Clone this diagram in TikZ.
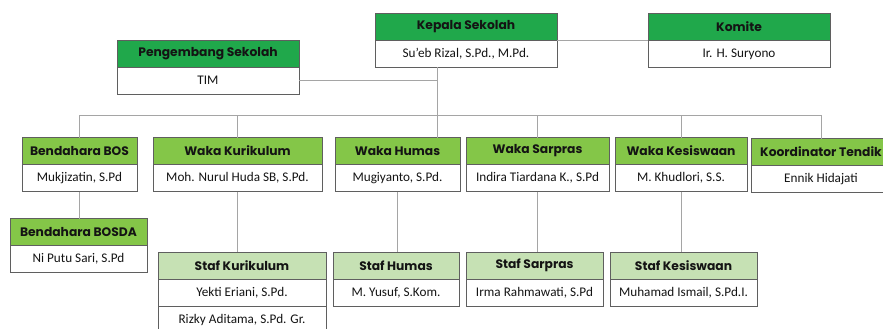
\documentclass[tikz,border=0pt]{standalone}
\usepackage{fontspec}
\setmainfont{Carlito}
\newfontfamily\headfont{Poppins}
\usetikzlibrary{positioning}
\definecolor{topgreen}{RGB}{32, 168, 75}
\definecolor{midgreen}{RGB}{132, 198, 72}
\definecolor{stafgreen}{RGB}{198, 225, 180}
\definecolor{edge}{RGB}{95, 95, 95}
\definecolor{wire}{RGB}{165, 165, 165}
\definecolor{ink}{RGB}{20, 20, 20}

\tikzset{
  box/.style={draw=edge, line width=0.9pt, minimum height=27pt, inner sep=0pt,
    outer sep=0pt, text=ink},
  tophead/.style={box, fill=topgreen, font=\headfont\bfseries\fontsize{12.3}{14}\selectfont},
  midhead/.style={box, fill=midgreen, font=\headfont\bfseries\fontsize{12.3}{14}\selectfont},
  stafhead/.style={box, fill=stafgreen, font=\headfont\bfseries\fontsize{12.3}{14}\selectfont},
  namebox/.style={box, fill=white, font=\fontsize{13.2}{15}\selectfont},
  wire/.style={draw=wire, line width=0.8pt}
}

\begin{document}
\begin{tikzpicture}[x=1pt, y=1pt]
  \useasboundingbox (0, 0) rectangle (883, -329);
  \clip (0, 0) rectangle (883, -329);

  % top row
  \node[tophead, minimum width=182pt] (kepala) at (466, -27) {Kepala Sekolah};
  \node[namebox, minimum width=182pt, below=0pt of kepala] (kepala-nm) {Su'eb Rizal, S.Pd., M.Pd.};
  \node[tophead, minimum width=182pt] (komite) at (739, -27) {Komite};
  \node[namebox, minimum width=182pt, below=0pt of komite] (komite-nm) {Ir. H. Suryono};
  \node[tophead, minimum width=182pt] (pengembang) at (208, -53.5) {Pengembang Sekolah};
  \node[namebox, minimum width=182pt, below=0pt of pengembang] (pengembang-nm) {TIM};

  % waka row
  \node[midhead, minimum width=115pt] (bos) at (79.5, -151) {Bendahara BOS};
  \node[namebox, minimum width=115pt, below=0pt of bos] (bos-nm) {Mukjizatin, S.Pd};
  \node[midhead, minimum width=169pt] (kurikulum) at (237.5, -151) {Waka Kurikulum};
  \node[namebox, minimum width=169pt, below=0pt of kurikulum] (kurikulum-nm) {Moh. Nurul Huda SB, S.Pd.};
  \node[midhead, minimum width=125pt] (humas) at (397.5, -151) {Waka Humas};
  \node[namebox, minimum width=125pt, below=0pt of humas] (humas-nm) {Mugiyanto, S.Pd.};
  \node[midhead, minimum width=143pt] (sarpras) at (537.5, -151) {Waka Sarpras};
  \node[namebox, minimum width=143pt, below=0pt of sarpras] (sarpras-nm) {Indira Tiardana K., S.Pd};
  \node[midhead, minimum width=132pt] (kesiswaan) at (681, -151) {Waka Kesiswaan};
  \node[namebox, minimum width=132pt, below=0pt of kesiswaan] (kesiswaan-nm) {M. Khudlori, S.S.};
  \node[midhead, minimum width=140pt] (tendik) at (821, -152) {Koordinator Tendik};
  \node[namebox, minimum width=140pt, below=0pt of tendik] (tendik-nm) {Ennik Hidajati};

  % staf row
  \node[midhead, minimum width=137pt] (bosda) at (78.5, -232) {Bendahara BOSDA};
  \node[namebox, minimum width=137pt, below=0pt of bosda] (bosda-nm) {Ni Putu Sari, S.Pd};
  \node[stafhead, minimum width=168pt] (stafkur) at (242, -265.5) {Staf Kurikulum};
  \node[namebox, minimum width=168pt, below=0pt of stafkur] (stafkur-nm) {Yekti Eriani, S.Pd.};
  \node[namebox, minimum width=168pt, below=0pt of stafkur-nm] (stafkur-nm2) {Rizky Aditama, S.Pd. Gr.};
  \node[stafhead, minimum width=126pt] (stafhumas) at (396, -265.5) {Staf Humas};
  \node[namebox, minimum width=126pt, below=0pt of stafhumas] (stafhumas-nm) {M. Yusuf, S.Kom.};
  \node[stafhead, minimum width=137pt] (stafsarpras) at (534.5, -265.5) {Staf Sarpras};
  \node[namebox, minimum width=137pt, below=0pt of stafsarpras] (stafsarpras-nm) {Irma Rahmawati, S.Pd};
  \node[stafhead, minimum width=147pt] (stafkes) at (683.5, -265.5) {Staf Kesiswaan};
  \node[namebox, minimum width=147pt, below=0pt of stafkes] (stafkes-nm) {Muhamad Ismail, S.Pd.I.};

  \coordinate (bus) at (0, -115);
  \coordinate (spine) at (437, 0);

  \path[wire] (kepala.south east) -- (komite.south west);
  \path[wire] (kepala-nm.south -| spine) -- (humas.north -| spine);
  \path[wire] (pengembang-nm.east) -- (pengembang-nm.east -| spine);
  \path[wire] (bos.north |- bus) -- (tendik.north |- bus);
  \foreach \w in {bos, kurikulum, sarpras, kesiswaan, tendik}
    \path[wire] (\w.north |- bus) -- (\w.north);
  \foreach \a/\b in {bos/bosda, kurikulum/stafkur, humas/stafhumas,
                     sarpras/stafsarpras, kesiswaan/stafkes}
    \path[wire] (\a-nm.south) -- (\a-nm.south |- \b.north);

\end{tikzpicture}
\end{document}
